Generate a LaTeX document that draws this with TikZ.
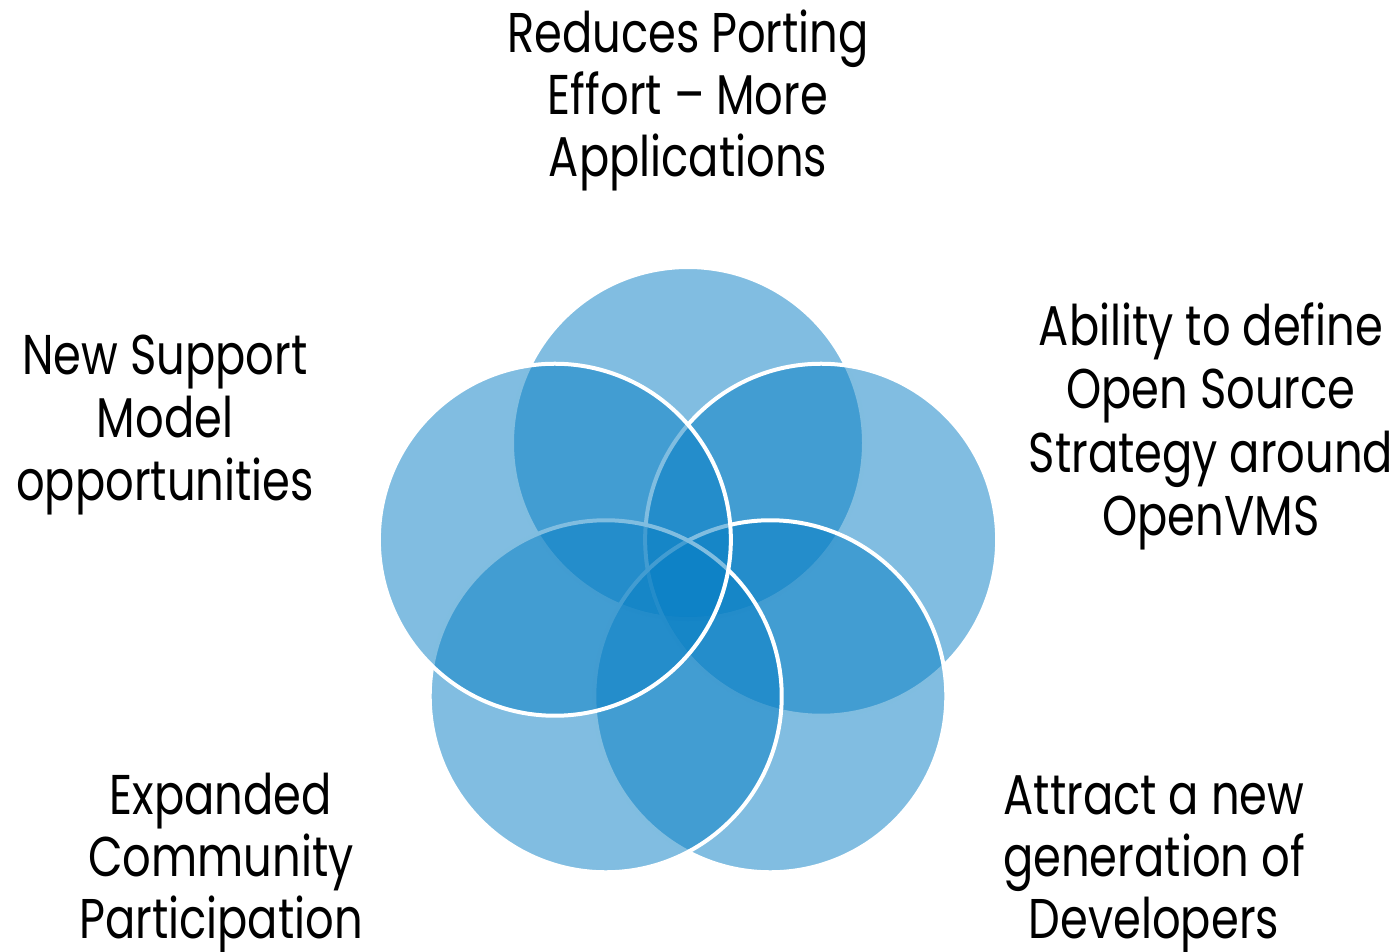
\documentclass[tikz,border=0pt]{standalone}
\usepackage{fontspec}
\setmainfont[FakeStretch=0.8]{Poppins}
\usetikzlibrary{calc}
\definecolor{venn}{RGB}{7,126,196}
\begin{document}
\begin{tikzpicture}[x=1pt,y=-1pt,
  petal/.style={fill=venn, fill opacity=0.51, draw=white, draw opacity=1, line width=4pt},
  lbl/.style={anchor=base, inner sep=0pt, font=\fontsize{56}{62}\selectfont, text=black}]
\useasboundingbox (0,0) rectangle (1400,952);
\coordinate (o) at (688,583);
% circles, clockwise from top
\foreach \n/\a in {ct/90, cur/18, clr/-54, cll/-126, cul/162}{
  \path[petal] ($(o)+(\a:140 and -140)$) circle[radius=176];
}
% top label
\node[lbl] (t1) at (688,53) {Reduces Porting};
\node[lbl] (t2) at (688,115) {Effort – More};
\node[lbl] (t3) at (688,177) {Applications};
% right label
\node[lbl] (r1) at (1211,345) {Ability to define};
\node[lbl] (r2) at (1211,408) {Open Source};
\node[lbl] (r3) at (1211,472) {Strategy around};
\node[lbl] (r4) at (1211,535) {OpenVMS};
% left label
\node[lbl] (l1) at (165,374) {New Support};
\node[lbl] (l2) at (165,437) {Model};
\node[lbl] (l3) at (165,500) {opportunities};
% bottom left
\node[lbl] (b1) at (221,814) {Expanded};
\node[lbl] (b2) at (221,876) {Community};
\node[lbl] (b3) at (221,938) {Participation};
% bottom right
\node[lbl] (d1) at (1154,814) {Attract a new};
\node[lbl] (d2) at (1154,876) {generation of};
\node[lbl] (d3) at (1154,938) {Developers};
\end{tikzpicture}
\end{document}
